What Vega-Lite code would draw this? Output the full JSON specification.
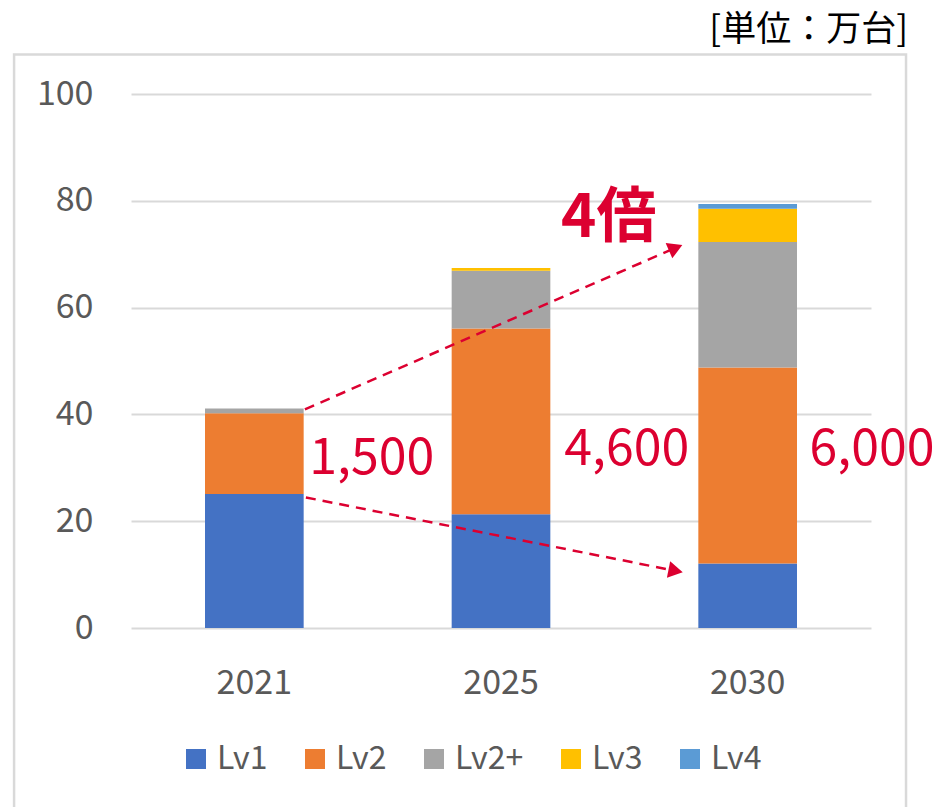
{
  "$schema": "https://vega.github.io/schema/vega-lite/v6.json",
  "width": 740,
  "height": 534,
  "autosize": {"type": "none"},
  "padding": {"left": 131, "top": 94, "right": 72, "bottom": 179},
  "background": "white",
  "config": {"font": "Noto Sans CJK JP", "view": {"stroke": null}},
  "title": {"text": "[単位：万台]", "anchor": "end", "frame": "group", "fontSize": 35, "fontWeight": "normal", "color": "#000000", "dx": 37, "offset": 5, "font": "Noto Sans CJK JP"},
  "datasets": {
    "bars": [
      {"year": "2021", "level": "Lv1", "value": 25.1},
      {"year": "2021", "level": "Lv2", "value": 15.1},
      {"year": "2021", "level": "Lv2+", "value": 0.9},
      {"year": "2025", "level": "Lv1", "value": 21.3},
      {"year": "2025", "level": "Lv2", "value": 34.8},
      {"year": "2025", "level": "Lv2+", "value": 10.8},
      {"year": "2025", "level": "Lv3", "value": 0.5},
      {"year": "2030", "level": "Lv1", "value": 12.1},
      {"year": "2030", "level": "Lv2", "value": 36.7},
      {"year": "2030", "level": "Lv2+", "value": 23.5},
      {"year": "2030", "level": "Lv3", "value": 6.2},
      {"year": "2030", "level": "Lv4", "value": 0.9}
    ],
    "frame": [{"x0": -0.474, "x1": 3.142, "y0": -38, "y1": 107.4}],
    "arrows": [
      {"arrow": "up", "x0": 0.705, "y0": 40.95, "x1": 2.208, "y1": 71.2},
      {"arrow": "down", "x0": 0.709, "y0": 24.45, "x1": 2.208, "y1": 10.7}
    ],
    "labels": [
      {"kind": "num", "label": "1,500", "x": 0.976, "y": 28.9},
      {"kind": "num", "label": "4,600", "x": 2.01, "y": 30.5},
      {"kind": "num", "label": "6,000", "x": 3.004, "y": 30.5},
      {"kind": "big", "label": "4倍", "x": 1.937, "y": 73.3}
    ]
  },
  "layer": [
    {
      "data": {"name": "bars"},
      "mark": {"type": "bar"},
      "encoding": {
        "x": {
          "field": "year", "type": "nominal",
          "scale": {"paddingInner": 0.6, "paddingOuter": 0.3},
          "axis": {"title": null, "labelAngle": 0, "labelFontSize": 34, "labelColor": "#595959", "labelPadding": 65, "labelBaseline": "alphabetic", "ticks": false, "tickSize": 0, "domain": false, "grid": false}
        },
        "y": {
          "field": "value", "type": "quantitative", "stack": "zero",
          "scale": {"domain": [0, 100], "nice": false},
          "axis": {"title": null, "values": [0, 20, 40, 60, 80, 100], "domain": false, "ticks": false, "tickSize": 0, "labelFontSize": 34, "labelColor": "#595959", "labelPadding": 38, "gridColor": "#D9D9D9", "gridWidth": 2}
        },
        "order": {"field": "level", "sort": "ascending"},
        "color": {
          "field": "level", "type": "nominal",
          "scale": {"domain": ["Lv1", "Lv2", "Lv2+", "Lv3", "Lv4"], "range": ["#4472C4", "#ED7D31", "#A5A5A5", "#FFC000", "#5B9BD5"]},
          "legend": {"title": null, "orient": "none", "legendX": 49, "legendY": 649, "direction": "horizontal", "symbolType": "square", "symbolSize": 400, "symbolStrokeWidth": 0, "labelFontSize": 32, "labelColor": "#595959", "labelOffset": 5, "columnPadding": 31}
        }
      }
    },
    {
      "layer": [
        {
          "data": {"name": "frame"},
          "mark": {"type": "rect", "fillOpacity": 0, "stroke": "#D9D9D9", "strokeWidth": 2.5},
          "encoding": {
            "x": {"field": "x0", "type": "quantitative", "scale": {"domain": [0, 3], "nice": false, "zero": false}, "axis": null},
            "x2": {"field": "x1"},
            "y": {"field": "y0", "type": "quantitative", "scale": {"domain": [0, 100], "nice": false}, "axis": null},
            "y2": {"field": "y1"}
          }
        },
        {
          "data": {"name": "arrows"},
          "mark": {"type": "rule", "color": "#DC0030", "strokeWidth": 2.5, "strokeDash": [10, 7]},
          "encoding": {
            "x": {"field": "x0", "type": "quantitative", "scale": {"domain": [0, 3], "nice": false, "zero": false}, "axis": null},
            "x2": {"field": "x1"},
            "y": {"field": "y0", "type": "quantitative", "scale": {"domain": [0, 100], "nice": false}, "axis": null},
            "y2": {"field": "y1"}
          }
        },
        {
          "data": {"name": "arrows"},
          "transform": [{"filter": "datum.arrow === 'up'"}],
          "mark": {"type": "point", "shape": "triangle-right", "filled": true, "color": "#DC0030", "opacity": 1, "size": 280, "angle": 336.5},
          "encoding": {
            "x": {"field": "x1", "type": "quantitative", "scale": {"domain": [0, 3], "nice": false, "zero": false}, "axis": null},
            "y": {"field": "y1", "type": "quantitative", "scale": {"domain": [0, 100], "nice": false}, "axis": null}
          }
        },
        {
          "data": {"name": "arrows"},
          "transform": [{"filter": "datum.arrow === 'down'"}],
          "mark": {"type": "point", "shape": "triangle-right", "filled": true, "color": "#DC0030", "opacity": 1, "size": 280, "angle": 11.2},
          "encoding": {
            "x": {"field": "x1", "type": "quantitative", "scale": {"domain": [0, 3], "nice": false, "zero": false}, "axis": null},
            "y": {"field": "y1", "type": "quantitative", "scale": {"domain": [0, 100], "nice": false}, "axis": null}
          }
        },
        {
          "data": {"name": "labels"},
          "transform": [{"filter": "datum.kind === 'num'"}],
          "mark": {"type": "text", "color": "#DC0030", "fontSize": 50, "align": "center", "baseline": "alphabetic", "font": "Noto Sans CJK JP"},
          "encoding": {
            "x": {"field": "x", "type": "quantitative", "scale": {"domain": [0, 3], "nice": false, "zero": false}, "axis": null},
            "y": {"field": "y", "type": "quantitative", "scale": {"domain": [0, 100], "nice": false}, "axis": null},
            "text": {"field": "label"}
          }
        },
        {
          "data": {"name": "labels"},
          "transform": [{"filter": "datum.kind === 'big'"}],
          "mark": {"type": "text", "color": "#DC0030", "fontSize": 60, "fontWeight": "bold", "align": "center", "baseline": "alphabetic", "font": "Noto Sans CJK JP"},
          "encoding": {
            "x": {"field": "x", "type": "quantitative", "scale": {"domain": [0, 3], "nice": false, "zero": false}, "axis": null},
            "y": {"field": "y", "type": "quantitative", "scale": {"domain": [0, 100], "nice": false}, "axis": null},
            "text": {"field": "label"}
          }
        }
      ]
    }
  ],
  "resolve": {"scale": {"x": "independent", "y": "independent"}}
}
